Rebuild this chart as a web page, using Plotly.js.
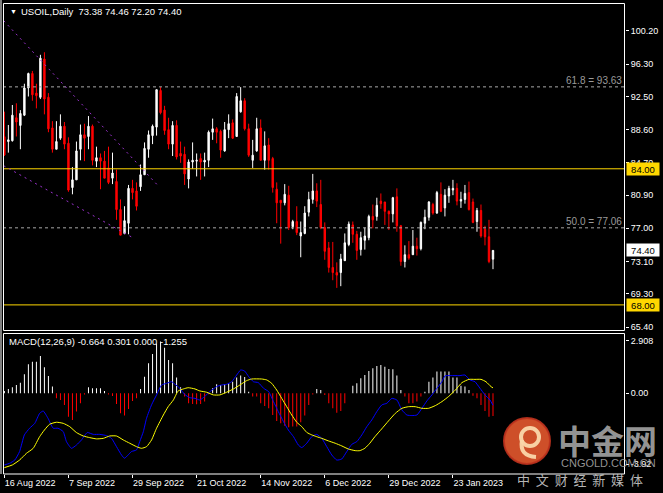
<!DOCTYPE html>
<html><head><meta charset="utf-8">
<script src="https://cdn.plot.ly/plotly-3.0.1.min.js"></script>
<style>html,body{margin:0;padding:0;background:#000;overflow:hidden}#chart{width:663px;height:493px}</style>
</head><body><div id="chart"></div>
<script>
// ---- data (one entry per daily bar) ----
const openP  = [87.78,87.2,87.3,90.0,89.1,90.3,93.5,95.2,92.9,92.4,96.9,92.4,88.8,86.3,87.6,89.0,87.0,81.8,82.7,86.3,88.0,87.8,89.0,84.9,85.3,84.9,84.1,82.9,82.5,79.2,76.4,77.6,81.7,81.4,81.9,83.3,86.3,87.9,88.9,93.2,90.9,88.6,86.9,89.1,85.8,85.7,82.8,84.8,84.9,85.2,84.8,85.0,88.3,88.7,88.4,86.1,88.6,89.4,87.8,90.7,92.0,88.7,85.0,86.1,88.8,85.0,86.8,85.2,81.6,80.3,80.0,80.9,77.2,77.8,76.1,76.4,78.9,80.4,81.4,79.8,77.1,74.7,72.4,71.8,71.8,73.2,75.1,77.4,76.3,74.5,75.6,75.9,78.4,78.4,80.2,80.1,79.0,78.7,80.7,77.3,73.1,73.9,73.9,74.9,74.6,77.6,78.3,79.8,78.8,81.0,79.4,80.8,81.5,81.7,80.2,80.4,81.2,80.1,77.8,79.1,76.9,76.0,73.38];
const highP  = [90.72,89.15,91.5,91.7,90.9,94.0,95.3,95.5,94.0,97.4,97.7,92.9,89.6,89.6,90.4,89.5,87.7,84.2,87.2,89.2,89.3,90.2,89.2,86.6,85.8,86.1,86.6,85.9,83.9,80.4,79.6,82.1,82.7,82.4,84.5,87.1,88.5,89.2,93.3,93.6,91.4,90.0,89.6,89.7,87.2,86.6,85.1,87.1,85.8,85.8,85.9,88.5,89.9,88.9,88.6,89.5,90.4,89.8,92.9,93.6,92.3,89.3,87.4,90.0,89.8,88.4,87.6,85.4,82.4,80.3,82.2,82.0,78.0,79.6,77.8,79.6,81.3,83.4,82.3,82.7,77.7,75.4,75.4,73.0,74.0,76.4,77.8,77.8,76.7,76.6,77.1,78.6,79.8,80.6,81.1,80.1,79.1,80.7,81.7,77.4,75.0,75.5,76.8,75.9,77.8,79.2,80.2,80.0,81.4,82.4,81.6,82.0,82.7,82.3,81.3,82.1,82.5,80.5,79.4,79.8,77.3,78.0,74.46];
const lowP   = [85.5,85.9,87.2,87.8,86.3,90.2,92.5,92.0,91.1,92.2,90.4,88.3,85.9,86.3,87.4,86.3,81.3,81.0,82.7,85.0,84.9,86.3,84.4,84.2,81.6,82.9,82.2,82.2,78.0,76.2,76.3,76.3,80.4,79.1,81.4,83.3,85.3,86.9,87.9,90.4,88.0,86.3,85.5,85.1,84.7,82.1,81.7,84.0,83.1,82.7,83.1,84.2,87.4,87.0,85.3,86.0,87.6,87.5,87.8,90.6,88.5,85.4,84.1,86.0,85.0,83.9,83.9,81.2,77.6,75.2,79.7,76.8,76.9,76.2,73.6,76.3,78.4,79.9,79.5,76.9,73.3,71.8,70.9,70.0,70.2,73.2,74.9,75.3,73.3,73.8,74.5,75.6,77.0,77.9,79.3,77.4,76.8,77.7,76.6,72.6,72.4,73.3,73.9,73.8,74.4,76.9,77.9,78.6,78.7,78.9,78.4,80.0,80.9,79.7,79.4,79.9,79.1,77.6,76.6,75.9,75.0,72.9,72.20];
const closeP = [85.63,87.4,90.3,89.5,90.5,93.5,95.2,92.7,92.6,97.0,92.2,88.7,86.3,87.2,89.0,86.9,81.5,82.7,86.1,88.0,87.6,89.0,85.0,85.3,84.9,82.9,82.4,83.5,79.2,76.2,77.9,81.7,81.2,79.6,83.3,86.4,88.0,89.0,93.3,90.6,88.5,86.9,89.1,85.4,85.5,83.4,84.8,85.0,85.0,84.8,85.0,88.3,88.7,88.3,86.2,88.6,89.3,87.6,92.5,92.0,88.7,85.6,85.6,88.7,85.0,86.7,85.0,81.8,80.0,80.0,81.0,77.1,77.8,76.5,76.5,78.8,80.4,81.4,80.2,77.1,74.3,72.4,71.8,71.5,73.4,75.3,77.5,76.3,74.4,75.9,76.1,78.4,78.0,79.7,79.9,79.0,78.7,80.6,77.3,73.1,73.9,73.5,74.9,74.6,77.7,78.3,80.1,78.8,81.2,79.0,80.9,81.7,81.7,80.2,80.4,81.1,79.2,77.7,79.1,76.1,76.0,73.1,74.40];

const histV = [0.13,0.24,0.33,0.46,0.59,1.05,1.60,1.75,1.75,2.06,1.44,0.96,0.37,-0.28,-0.37,-0.64,-1.29,-1.47,-1.01,-0.55,-0.06,0.33,0.28,0.28,0.28,0.13,-0.06,-0.15,-0.59,-1.10,-1.23,-0.87,-0.42,-0.28,0.24,0.92,1.66,2.17,2.76,2.86,2.52,1.84,1.66,0.88,0.33,-0.18,-0.55,-0.59,-0.61,-0.59,-0.46,-0.05,0.28,0.50,0.46,0.50,0.55,0.64,0.87,0.98,0.90,0.09,-0.18,-0.18,-0.55,-0.70,-0.83,-1.20,-1.53,-1.66,-1.79,-1.88,-1.84,-1.84,-1.60,-1.23,-0.64,-0.06,0.24,0.18,-0.09,-0.55,-0.83,-1.07,-0.98,-0.55,0,0.42,0.55,0.83,1.01,1.23,1.38,1.51,1.57,1.47,1.34,1.33,0.98,0.18,-0.18,-0.55,-0.55,-0.46,-0.18,0.09,0.64,0.87,1.20,1.20,1.20,1.20,0.87,0.87,0.42,0.37,0.18,-0.13,-0.28,-0.64,-0.98,-1.29,-1.255];

const macdX = [0,1.3,2.6,3.8,5,6.3,7.6,8.8,9.7,10.9,12.2,13.4,14.7,15.5,16.75,18,19.25,20.7,22.2,23.8,25.5,26.75,28,29.25,30,30.9,31.75,33,33.8,34.7,35.5,36.75,38,39.25,40.5,41.75,42.6,43.8,45,46.3,47.6,48.8,50,51.3,53,54.25,55.5,56.75,58,59,60,61,62.2,63.4,64.7,66,67.2,68.4,69.7,70.9,72.2,73.4,74.25,75.5,76.75,78,79.25,80.5,81.75,83,84.25,85.5,86.75,88,89.25,90.5,91.75,93,94.25,95.5,96.75,98,99.25,100.5,101.75,103,104.25,105.5,106.75,108,109.25,110,111.3,112.5,113.75,115,116.25,117.5,118.75,120,121.25,122];
const macdY = [-3.96,-3.87,-3.69,-3.22,-2.30,-1.93,-1.66,-1.11,-0.98,-1.38,-1.93,-1.93,-2.12,-2.67,-3.04,-2.86,-2.58,-2.17,-2.27,-2.27,-2.34,-2.49,-2.95,-3.41,-3.59,-3.41,-3.22,-3.13,-2.67,-2.12,-1.38,-0.64,-0.09,0.46,0.55,0.64,0.50,0.28,-0.06,-0.24,-0.28,-0.37,-0.18,0.09,0.37,0.46,0.50,0.64,1.01,1.29,1.23,0.92,0.64,0.59,0.28,0.09,-0.46,-1.01,-1.57,-2.03,-2.40,-2.86,-3.00,-2.76,-2.40,-2.27,-2.49,-2.95,-3.41,-3.69,-3.63,-3.22,-2.82,-2.67,-2.30,-1.84,-1.47,-1.01,-0.64,-0.55,-0.28,-0.37,-0.92,-1.20,-1.23,-1.20,-0.83,-0.42,-0.09,0.28,0.64,0.96,0.98,0.98,0.98,1.01,0.74,0.64,0.28,-0.09,-0.37,-0.664];

const signalX = [0,2,3.8,5.5,7.2,8.8,10,11.3,13,14.7,16.3,18,19.7,21.3,23,24.7,26.3,28,29.7,31.3,33,34.25,35.5,36.75,38,39.7,40.9,42.2,43.4,44.7,45.9,47.6,48.8,50.5,52.2,53.8,55.5,57.2,58.8,60.5,61.75,64.25,65.5,66.75,68,69.25,70.5,71.75,73,74.25,75.5,76.75,78,79.25,80.9,82.6,84.25,85.9,87.6,88.75,90,91.25,92.5,94.2,95.9,97.6,99.25,100.9,102.6,104.25,105.9,107.6,109.25,110.9,112.6,114.25,116,117.5,119,120.25,121.5,122];
const signalY = [-4.11,-3.96,-3.69,-3.32,-3.04,-2.40,-2.03,-1.71,-1.60,-1.66,-1.84,-2.17,-2.36,-2.45,-2.52,-2.49,-2.36,-2.36,-2.58,-2.76,-2.95,-3.04,-2.95,-2.58,-1.93,-1.20,-0.74,-0.37,0.13,0.24,0.31,0.24,0.13,0.06,-0.09,-0.09,0.06,0.24,0.46,0.70,0.79,0.79,0.74,0.55,0.18,-0.28,-0.74,-1.20,-1.60,-1.84,-2.16,-2.30,-2.40,-2.49,-2.63,-2.76,-2.91,-3.08,-3.17,-3.17,-3.04,-2.76,-2.40,-1.97,-1.53,-1.11,-0.83,-0.74,-0.74,-0.83,-0.83,-0.68,-0.46,-0.18,0.18,0.59,0.77,0.77,0.77,0.64,0.37,0.301];

const dateLabels = ['16 Aug 2022','7 Sep 2022','29 Sep 2022','21 Oct 2022','14 Nov 2022','6 Dec 2022','29 Dec 2022','23 Jan 2023'];
const dateTickBars = [0,16,32,48,64,80,96,112];
const priceTicks = [100.20,96.30,92.50,88.60,84.70,80.90,77.00,73.10,69.30,65.40];
const macdTicks = [2.908,0,-3.92];
const macdTickText = ['2.908','0.00','-3.92'];
const goldLevels = [84.00,68.00];
const fibLevels = [93.63,77.06];
const fibLabels = ['61.8 = 93.63','50.0 = 77.06'];
const lastPrice = 74.40;
const upperTrendX = [-0.17,38.33], upperTrendY = [101.41,82.04];
const lowerTrendX = [-0.17,31.76], lowerTrendY = [84.36,75.98];
const headerText = 'USOIL,Daily\u00a0\u00a073.38 74.46 72.20 74.40';
const macdText = 'MACD(12,26,9) -0.664 0.301 0.000 -1.255';

// ---- layout helpers (pixel -> paper) ----
const L=3, R=625, T=3, B=474, W=R-L, H=B-T;
const px = p => (p-L)/W;
const py = p => (B-p)/H;
const bars = openP.map((_, i) => i);
const histColors = histV.map(v => v >= 0 ? '#FFFFFF' : '#FF0000');
const GOLD = '#FFD700';

const traces = [
  {type:'candlestick', x:bars, open:openP, high:highP, low:lowP, close:closeP, xaxis:'x', yaxis:'y',
   increasing:{line:{color:'#FFFFFF',width:1}, fillcolor:'#FFFFFF'},
   decreasing:{line:{color:'#FF0000',width:1}, fillcolor:'#FF0000'},
   whiskerwidth:0, hoverinfo:'skip'},
  {type:'bar', x:bars, y:histV, xaxis:'x2', yaxis:'y2', width:0.25,
   marker:{color:histColors, line:{width:0}}, hoverinfo:'skip'},
  {type:'scatter', mode:'lines', x:macdX, y:macdY, xaxis:'x2', yaxis:'y2',
   line:{color:'#0000FF', width:1, shape:'spline', smoothing:0.5}, hoverinfo:'skip'},
  {type:'scatter', mode:'lines', x:signalX, y:signalY, xaxis:'x2', yaxis:'y2',
   line:{color:'#FFFF00', width:1, shape:'spline', smoothing:0.5}, hoverinfo:'skip'}
];

const shapes = [];
goldLevels.forEach(v => shapes.push({type:'line', xref:'paper', yref:'y', x0:0, x1:1, y0:v, y1:v, line:{color:GOLD, width:1}}));
fibLevels.forEach(v => shapes.push({type:'line', xref:'paper', yref:'y', x0:0, x1:1, y0:v, y1:v, line:{color:'#A8A8A8', width:1, dash:'3px,3px'}}));
shapes.push({type:'line', xref:'x', yref:'y', x0:upperTrendX[0], x1:upperTrendX[1], y0:upperTrendY[0], y1:upperTrendY[1], line:{color:'#9932CC', width:1, dash:'2px,4px'}});
shapes.push({type:'line', xref:'x', yref:'y', x0:lowerTrendX[0], x1:lowerTrendX[1], y0:lowerTrendY[0], y1:lowerTrendY[1], line:{color:'#9932CC', width:1, dash:'2px,4px'}});
// frames
shapes.push({type:'rect', xref:'paper', yref:'paper', x0:px(3.5), x1:px(624.5), y0:py(330.5), y1:py(3.5), line:{color:'#FFFFFF', width:1}});
shapes.push({type:'rect', xref:'paper', yref:'paper', x0:px(3.5), x1:px(624.5), y0:py(474), y1:py(333.5), line:{color:'#FFFFFF', width:1}});
shapes.push({type:'line', xref:'paper', yref:'paper', x0:px(1), x1:px(1), y0:py(474), y1:py(0), line:{color:'#FFFFFF', width:1}});
// watermark logo
shapes.push({type:'circle', xref:'paper', yref:'paper', x0:px(504), x1:px(550), y0:py(464), y1:py(418), fillcolor:'rgba(228,88,46,0.9)', line:{color:'rgba(190,50,30,0.9)', width:2}});
shapes.push({type:'circle', xref:'paper', yref:'paper', x0:px(521), x1:px(539), y0:py(446), y1:py(428), fillcolor:'rgba(0,0,0,0)', line:{color:'rgba(250,215,170,0.95)', width:4}});
shapes.push({type:'path', xref:'paper', yref:'paper',
  path:'M'+px(522)+','+py(440)+' Q'+px(519)+','+py(456)+' '+px(536)+','+py(457),
  line:{color:'rgba(250,215,170,0.95)', width:4}});

const A = (o) => Object.assign({showarrow:false, xanchor:'left', yanchor:'middle'}, o);
const annotations = [
  A({xref:'paper', yref:'paper', x:px(8), y:py(12), text:'▼', font:{size:7,color:'#FFFFFF'}}),
  A({xref:'paper', yref:'paper', x:px(19), y:py(12), text:headerText, font:{size:9.5,color:'#FFFFFF'}}),
  A({xref:'paper', yref:'paper', x:px(7), y:py(341.5), text:macdText, font:{size:9.5,color:'#FFFFFF'}})
];
fibLevels.forEach((v,i) => annotations.push(A({xref:'paper', yref:'y', x:px(623.5), y:v, xanchor:'right', yanchor:'bottom', yshift:-1, text:fibLabels[i], font:{size:10,color:'#9A9A9A'}})));
goldLevels.forEach(v => annotations.push(A({xref:'paper', yref:'y', x:1, y:v, xshift:1, text:v.toFixed(2), bgcolor:GOLD, width:30, height:10, borderpad:1, font:{size:9.5,color:'#000000'}})));
annotations.push(A({xref:'paper', yref:'y', x:1, y:lastPrice, xshift:1, text:lastPrice.toFixed(2), bgcolor:'#FFFFFF', width:30, height:10, borderpad:1, font:{size:9.5,color:'#000000'}}));
// watermark text
annotations.push(A({xref:'paper', yref:'paper', x:px(607), y:py(440), xanchor:'center', text:'<b>中金网</b>', font:{family:'Noto Sans CJK SC', size:33, color:'rgba(175,175,175,0.85)'}}));
annotations.push(A({xref:'paper', yref:'paper', x:px(608), y:py(463), xanchor:'center', text:'CNGOLD.COM.CN', font:{size:11, color:'rgba(175,175,175,0.85)'}}));
annotations.push(A({xref:'paper', yref:'paper', x:px(580), y:py(479), xanchor:'center', text:'中\u00a0\u00a0文\u00a0\u00a0财\u00a0\u00a0经\u00a0\u00a0新\u00a0\u00a0媒\u00a0\u00a0体', font:{family:'Noto Sans CJK SC', size:13, color:'rgba(215,215,215,0.85)'}}));

const xRange = [-0.34, 154.96];
const layout = {
  width:663, height:493, margin:{l:L, r:663-R, t:T, b:493-B},
  paper_bgcolor:'#000000', plot_bgcolor:'#000000', showlegend:false, hovermode:false, boxgap:0.5,
  font:{family:'Liberation Sans, Arial, sans-serif', size:9, color:'#FFFFFF'},
  xaxis:{domain:[0,1], anchor:'y', type:'linear', range:xRange, showticklabels:false, ticks:'', showgrid:false, zeroline:false, showline:false, rangeslider:{visible:false}, fixedrange:true},
  yaxis:{domain:[py(330.5),1], anchor:'x', side:'right', range:[64.99,103.49], tickvals:priceTicks, tickformat:'.2f', ticks:'outside', ticklen:3, tickwidth:1, tickcolor:'#FFFFFF', showgrid:false, zeroline:false, showline:false, tickfont:{size:9,color:'#FFFFFF'}, fixedrange:true},
  xaxis2:{domain:[0,1], anchor:'y2', type:'linear', range:xRange, tickvals:dateTickBars, ticktext:dateLabels, ticks:'outside', ticklen:3, tickwidth:1, tickcolor:'#FFFFFF', ticklabelposition:'outside right', showgrid:false, zeroline:false, showline:false, tickfont:{size:9,color:'#FFFFFF'}, fixedrange:true},
  yaxis2:{domain:[0,py(333.5)], anchor:'x2', side:'right', range:[-4.461,3.306], tickvals:macdTicks, ticktext:macdTickText, ticks:'outside', ticklen:3, tickwidth:1, tickcolor:'#FFFFFF', showgrid:false, zeroline:false, showline:false, tickfont:{size:9,color:'#FFFFFF'}, fixedrange:true},
  shapes:shapes, annotations:annotations
};
Plotly.newPlot('chart', traces, layout, {staticPlot:true, displayModeBar:false});
</script>
</body></html>
